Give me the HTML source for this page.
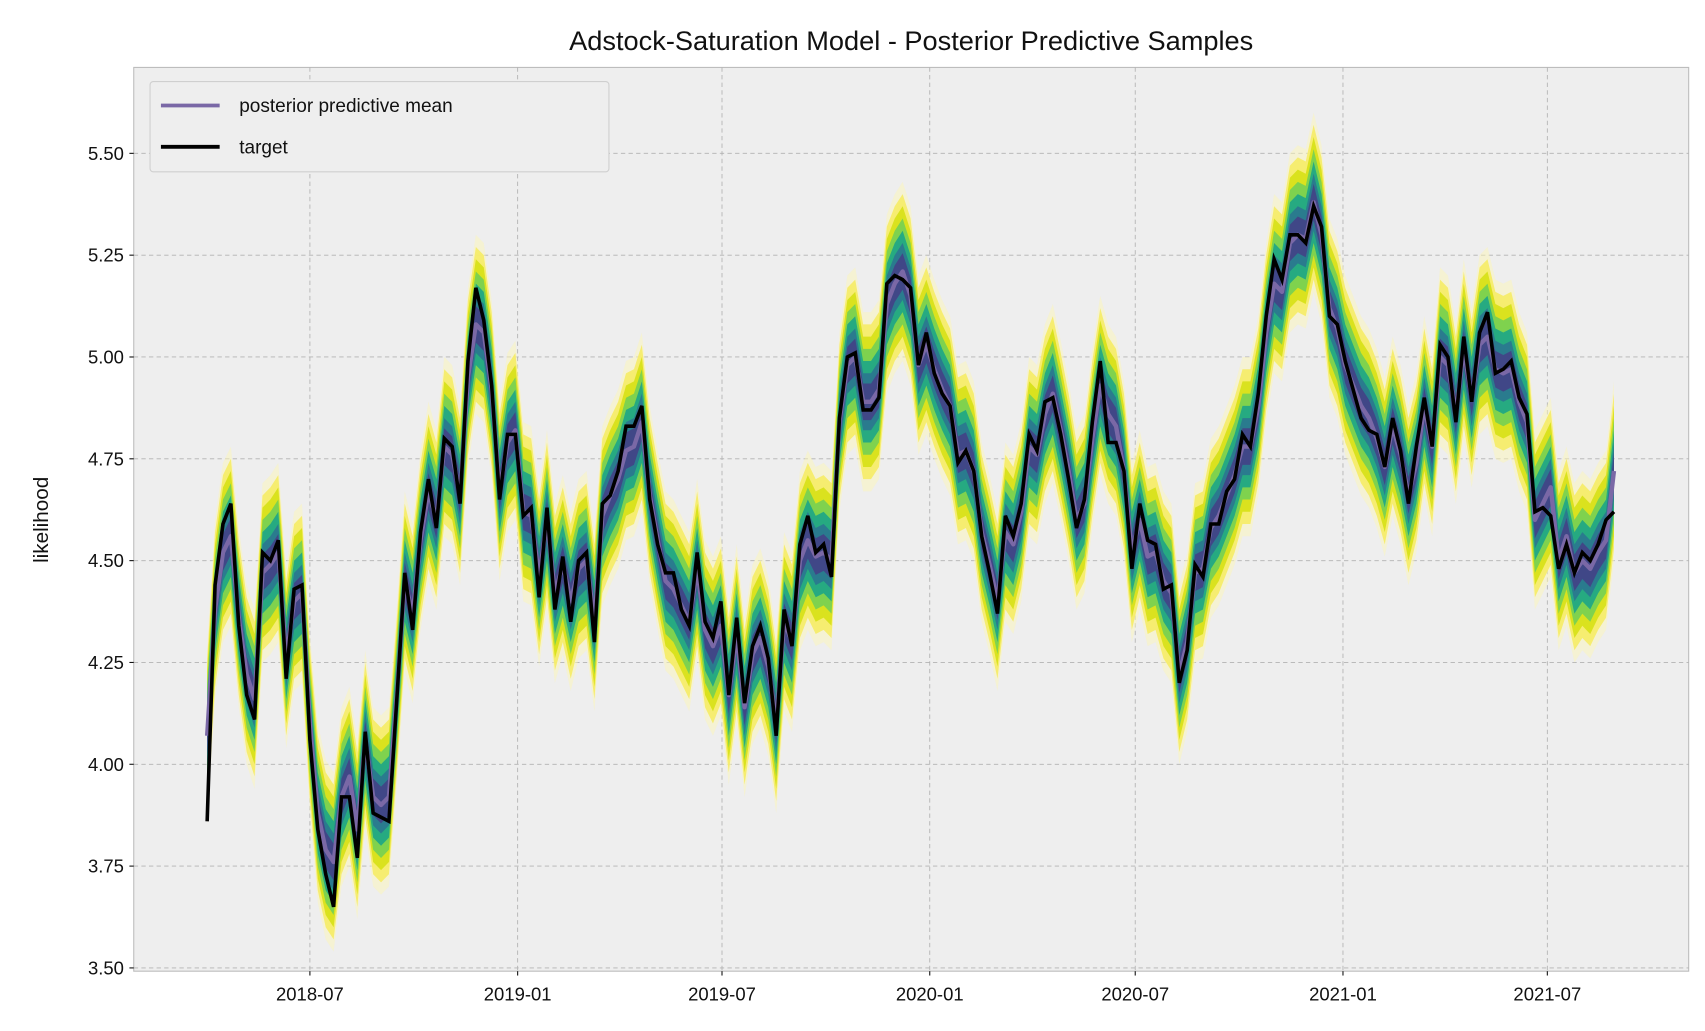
<!DOCTYPE html>
<html><head><meta charset="utf-8"><style>
html,body{margin:0;padding:0;background:#fff;}
svg{display:block;font-family:"Liberation Sans","DejaVu Sans",sans-serif;}
</style></head><body>
<svg id="chart" width="1705" height="1031" viewBox="0 0 1568 948" preserveAspectRatio="none" xmlns="http://www.w3.org/2000/svg">
<rect x="0" y="0" width="1568" height="948" fill="#fff"/>
<rect x="123" y="62" width="1430" height="831" fill="#eeeeee" stroke="#bcbcbc" stroke-width="1"/>
<g id="grid"></g>
<g id="bands"></g>
<g id="lines"></g>
<g id="ticks"></g>
<text x="838" y="46" text-anchor="middle" font-size="25" fill="#111">Adstock-Saturation Model - Posterior Predictive Samples</text>
<text transform="translate(44,478) rotate(-90)" text-anchor="middle" font-size="19" fill="#111">likelihood</text>
<g>
<rect x="138" y="75" width="422" height="83" rx="3" fill="#eeeeee" stroke="#cfcfcf"/>
<g>
<line x1="148" y1="97" x2="202" y2="97" stroke="#7a68a6" stroke-width="3.5"/>
<text x="220" y="103" font-size="17.5" fill="#111">posterior predictive mean</text></g>
<g>
<line x1="148" y1="135" x2="202" y2="135" stroke="#000" stroke-width="3.5"/>
<text x="220" y="141" font-size="17.5" fill="#111">target</text></g>
</g>
</svg>
<script>
const startDate = "2018-04-01";
const target = [3.86,4.44,4.59,4.64,4.34,4.17,4.11,4.52,4.50,4.55,4.21,4.43,4.44,4.06,3.84,3.73,3.65,3.92,3.92,3.77,4.08,3.88,3.87,3.86,4.16,
4.47,4.33,4.57,4.70,4.58,4.80,4.78,4.64,4.99,5.17,
5.09,4.93,4.65,4.81,4.81,4.61,4.63,4.41,4.63,4.38,
4.51,4.35,4.50,4.52,4.30,4.64,4.66,4.72,4.83,4.83,
4.88,4.65,4.54,4.47,4.47,4.38,4.34,4.52,4.35,4.31,
4.40,4.17,4.36,4.15,4.29,4.34,4.26,4.07,4.38,4.29,
4.54,4.61,4.52,4.54,4.46,4.85,5.00,5.01,4.87,4.87,
4.90,5.18,5.20,5.19,5.17,4.98,5.06,4.96,4.91,4.88,
4.74,4.77,4.72,4.56,4.47,4.37,4.61,4.56,4.64,4.81,
4.77,4.89,4.90,4.81,4.70,4.58,4.65,4.84,4.99,4.79,
4.79,4.72,4.48,4.64,4.55,4.54,4.43,4.44,4.20,4.28,
4.49,4.46,4.59,4.59,4.67,4.70,4.81,4.78,4.91,5.10,
5.24,5.19,5.30,5.30,5.28,5.37,5.32,5.10,5.08,4.99,
4.92,4.85,4.82,4.81,4.73,4.85,4.77,4.64,4.78,4.90,
4.78,5.03,5.00,4.84,5.05,4.89,5.06,5.11,4.96,4.97,
4.99,4.90,4.86,4.62,4.63,4.61,4.48,4.54,4.47,4.52,
4.50,4.54,4.60,4.62];
const meanPred = [4.07,4.38,4.52,4.56,4.36,4.22,4.16,4.47,4.49,4.52,4.26,4.40,4.42,4.10,3.88,3.79,3.76,3.92,3.97,3.84,4.06,3.92,3.90,3.92,4.17,
4.45,4.37,4.55,4.67,4.60,4.78,4.76,4.66,4.95,5.08,
5.06,4.92,4.67,4.79,4.82,4.62,4.61,4.46,4.60,4.42,
4.49,4.40,4.48,4.50,4.35,4.61,4.66,4.70,4.77,4.78,
4.84,4.66,4.55,4.45,4.43,4.39,4.35,4.48,4.33,4.29,
4.34,4.17,4.32,4.14,4.27,4.31,4.24,4.10,4.35,4.30,
4.50,4.55,4.51,4.52,4.50,4.84,4.98,5.00,4.89,4.89,
4.92,5.13,5.18,5.21,5.15,4.98,5.03,4.97,4.92,4.88,
4.76,4.77,4.72,4.57,4.49,4.40,4.57,4.54,4.62,4.78,
4.76,4.86,4.91,4.82,4.72,4.60,4.64,4.80,4.93,4.86,
4.83,4.72,4.52,4.60,4.51,4.52,4.45,4.42,4.22,4.30,
4.47,4.48,4.58,4.61,4.66,4.71,4.78,4.78,4.88,5.06,
5.18,5.16,5.28,5.30,5.29,5.38,5.30,5.12,5.07,4.98,
4.93,4.88,4.85,4.80,4.73,4.83,4.76,4.66,4.74,4.88,
4.78,5.00,4.98,4.86,5.02,4.90,5.03,5.05,4.97,4.96,
4.97,4.89,4.84,4.60,4.64,4.68,4.50,4.56,4.47,4.50,
4.48,4.52,4.55,4.72];
const bandLevels = [0.22,0.19,0.16,0.13,0.10,0.07,0.045];
const bandColors = ["#fbf6b8","#f5ec6a","#d8e219","#7ad151","#22a884","#2a788e","#414487"];
const yTicks = [3.50,3.75,4.00,4.25,4.50,4.75,5.00,5.25,5.50];
const xTickLabels = ["2018-07","2019-01","2019-07","2020-01","2020-07","2021-01","2021-07"];

const NS = "http://www.w3.org/2000/svg";
const X0 = 123, X1 = 1553, Y0 = 62, Y1 = 893;
function yScale(v){ return 890 - (v - 3.5) * (890 - 141) / 2.0; }
const refT = Date.parse("2018-07-01"), refX = 285, pxPerDay = 1138 / 1096;
function xScaleDate(s){ return refX + (Date.parse(s) - refT) / 86400000 * pxPerDay; }
function xIdx(i){ return xScaleDate(startDate) + i * 7 * pxPerDay; }
function mk(tag, attrs, parent){ const e = document.createElementNS(NS, tag); for (const k in attrs) e.setAttribute(k, attrs[k]); parent.appendChild(e); return e; }

const grid = document.getElementById("grid"), ticks = document.getElementById("ticks");
yTicks.forEach(v => {
  const y = yScale(v);
  const gl = mk("line", {x1:X0, x2:X1, y1:y, y2:y, stroke:"#b2b2b2", "stroke-width":0.8, "stroke-dasharray":"4,3"}, grid);
  
  
  const t = mk("text", {x:X0 - 9, y:y + 6, "text-anchor":"end", "font-size":17, fill:"#111"}, ticks);
  
  
  t.textContent = v.toFixed(2);
  mk("line", {x1:X0 - 4, x2:X0, y1:y, y2:y, stroke:"#111"}, ticks);
});
xTickLabels.forEach(lbl => {
  const x = xScaleDate(lbl + "-01");
  const gl = mk("line", {x1:x, x2:x, y1:Y0, y2:Y1, stroke:"#b2b2b2", "stroke-width":0.8, "stroke-dasharray":"4,3"}, grid);
  
  
  const t = mk("text", {x:x, y:Y1 + 27, "text-anchor":"middle", "font-size":17, fill:"#111"}, ticks);
  
  
  t.textContent = lbl;
  mk("line", {x1:x, x2:x, y1:Y1, y2:Y1 + 4, stroke:"#111"}, ticks);
});

const bands = document.getElementById("bands");
bandLevels.forEach((w, k) => {
  let up = [], dn = [];
  meanPred.forEach((m, i) => { up.push(xIdx(i) + "," + yScale(m + w)); dn.unshift(xIdx(i) + "," + yScale(m - w)); });
  const p = mk("polygon", {points: up.concat(dn).join(" "), fill: bandColors[k], opacity: k === 0 ? 0.5 : 0.95}, bands);
  
  
});

const lines = document.getElementById("lines");
function pathFor(arr){ return arr.map((v, i) => (i ? "L" : "M") + xIdx(i).toFixed(2) + "," + yScale(v).toFixed(2)).join(""); }
const mp = mk("path", {d: pathFor(meanPred), fill:"none", stroke:"#7a68a6", "stroke-width":4, "stroke-linejoin":"round"}, lines);


const tp = mk("path", {d: pathFor(target), fill:"none", stroke:"#000", "stroke-width":3.3, "stroke-linejoin":"miter"}, lines);


</script>
</body></html>
